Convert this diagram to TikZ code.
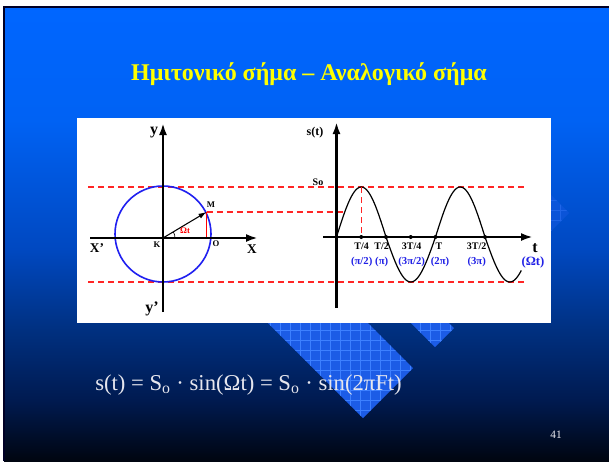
\documentclass[tikz,border=0pt]{standalone}
\usepackage{fontspec}
\setmainfont{Liberation Serif}
\usetikzlibrary{arrows.meta}

\definecolor{bgA}{HTML}{000510}
\definecolor{bgB}{HTML}{001A50}
\definecolor{bgC}{HTML}{003080}
\definecolor{bgD}{HTML}{0048C0}
\definecolor{bgE}{HTML}{0062F4}
\definecolor{bgF}{HTML}{0066FF}
\definecolor{tilefill}{HTML}{1C5CE6}
\definecolor{tileline}{HTML}{3D80FF}
\definecolor{titleyellow}{HTML}{FFFF00}
\definecolor{labelblue}{HTML}{2020E6}
\definecolor{circleblue}{HTML}{2020F0}
\definecolor{guidered}{HTML}{FF2525}
\definecolor{formulagray}{HTML}{E6E6EE}

\pgfdeclareverticalshading{slidebg}{100bp}{color(0bp)=(bgA); color(25bp)=(bgA);
  color(31.7bp)=(bgB); color(39.4bp)=(bgC); color(48.2bp)=(bgD);
  color(62.5bp)=(bgE); color(75bp)=(bgF); color(100bp)=(bgF)}

\tikzset{
  tile/.style={fill=tilefill,
    path picture={\draw[tileline,line width=0.4pt]
      (path picture bounding box.south west) grid[step=7.5pt]
      (path picture bounding box.north east);}},
  axis/.style={line width=1.8pt,-{Latex[length=9pt,width=6pt]}},
  guide/.style={guidered,line width=0.9pt,dash pattern=on 4.5pt off 3pt},
  tick/.style={font=\bfseries\fontsize{7.5}{9}\selectfont},
  phase/.style={labelblue,font=\bfseries\fontsize{8}{10}\selectfont},
  axlabel/.style={font=\bfseries\fontsize{10}{12}\selectfont},
  ptlabel/.style={font=\bfseries\fontsize{6.5}{8}\selectfont}
}

\begin{document}
\begin{tikzpicture}[x=0.75pt,y=-0.75pt]
  \useasboundingbox (0,0) rectangle (609,461);
  \fill[white] (0,0) rectangle (609,461);
  \shade[shading=slidebg] (4,7) rectangle (609,461);
  \draw[line width=1.5pt,color=black!85!blue] (4,461) -- (4,7) -- (609,7);

  % background tiles
  \path[tile] (363,418) -- (413,368) -- (283,238) -- (233,288) -- cycle;
  \path[tile] (435,347) -- (454,328) -- (394,268) -- (375,287) -- cycle;
  \path[tile,opacity=0.4] (569,213) -- (529,173) -- (510,192) -- (550,232) -- cycle;

  % title
  \node[titleyellow,font=\bfseries\fontsize{18}{21}\selectfont] (title) at (309,74)
    {Ημιτονικό σήμα – Αναλογικό σήμα};

  % white panel
  \fill[white] (77,118) rectangle (551,323);

  % amplitude guides
  \coordinate (top1) at (88,187);
  \coordinate (top2) at (527,187);
  \coordinate (bot1) at (88,282);
  \coordinate (bot2) at (527,282);
  \draw[guide] (top1) -- (top2);
  \draw[guide] (bot1) -- (bot2);

  % circle
  \coordinate (K) at (163,238);
  \coordinate (xl) at (90,238);
  \coordinate (xr) at (258,238);
  \coordinate (yb) at (163,312);
  \coordinate (yt) at (163,123);
  \coordinate (M) at (206.5,212);
  \coordinate (Mx) at (206.5,238);
  \coordinate (Ms) at (345,212);
  \draw[circleblue,line width=1.2pt] (163,234) circle[radius=48];
  \draw[guide] (M) -- (Ms);
  \draw[red,line width=0.8pt] (M) -- (Mx);
  \draw[line width=0.8pt,-{Latex[length=6pt,width=4pt]}] (K) -- (M);
  \draw[line width=0.5pt] (K) ++(12,0) arc[start angle=0,end angle=-30,radius=12];
  \draw[axis] (xl) -- (xr);
  \draw[axis] (yb) -- (yt);
  \node[ptlabel] (Mlab) at (211,205) {M};
  \node[ptlabel] (Klab) at (157,245) {K};
  \node[ptlabel] (Olab) at (216,244) {O};
  \node[ptlabel,red] (wt) at (185,231) {Ωt};
  \node[axlabel] (Xlab) at (252,249) {X};
  \node[axlabel] (Xplab) at (97,248) {X'};
  \node[font=\bfseries\fontsize{12}{14}\selectfont] (ylab) at (154,133) {y};
  \node[font=\bfseries\fontsize{12}{14}\selectfont] (yplab) at (152,309) {y'};

  % signal
  \coordinate (s0) at (336.5,237);
  \coordinate (tl) at (323,237);
  \coordinate (tr) at (533,237);
  \coordinate (sb) at (336.5,308);
  \coordinate (st) at (336.5,122);
  \coordinate (pk) at (361.25,187);
  \draw[line width=0.9pt] plot[domain=0:672,samples=150]
    ({336.5+\x/360*99},{237-47.5*sin(\x)-2.5*abs(sin(\x))});
  \foreach \k in {1,2,3,4,6}
    \coordinate (q\k) at (336.5+\k*24.75,237);
  \draw[guide] (pk) -- (q1);
  \draw[axis] (tl) -- (tr);
  \draw[axis] (sb) -- (st);
  \foreach \k in {1,2,3,4,6}
    \fill (q\k) circle[radius=2];
  \node[font=\bfseries\fontsize{9}{11}\selectfont] (slab) at (315,133) {s(t)};
  \node[font=\bfseries\fontsize{7.5}{9}\selectfont] (So) at (318,182) {So};
  \node[font=\bfseries\fontsize{12}{14}\selectfont,inner sep=0pt] (tlab) at (535,248) {t};
  \node[tick] (T1) at (361.7,246) {T/4};
  \node[tick] (T2) at (381.7,246) {T/2};
  \node[tick] (T3) at (411.7,246) {3T/4};
  \node[tick] (T4) at (439,246) {T};
  \node[tick] (T6) at (476.7,246) {3T/2};
  \node[phase] (P1) at (361.7,262) {(π/2)};
  \node[phase] (P2) at (381.7,262) {(π)};
  \node[phase] (P3) at (411.7,262) {(3π/2)};
  \node[phase] (P4) at (440,262) {(2π)};
  \node[phase] (P6) at (476.7,262) {(3π)};
  \node[phase,font=\bfseries\fontsize{9.5}{11}\selectfont,inner sep=0pt] (Pw) at (533,262) {(Ωt)};

  % formula
  \node[formulagray,anchor=base west,inner sep=0pt,font=\fontsize{17}{20}\selectfont]
    (formula) at (95,390)
    {s(t) = S\textsubscript{o} · sin(Ωt) = S\textsubscript{o} · sin(2πFt)};
  \node[formulagray!80,font=\fontsize{8.5}{10}\selectfont] (page) at (556,435) {41};
\end{tikzpicture}
\end{document}
